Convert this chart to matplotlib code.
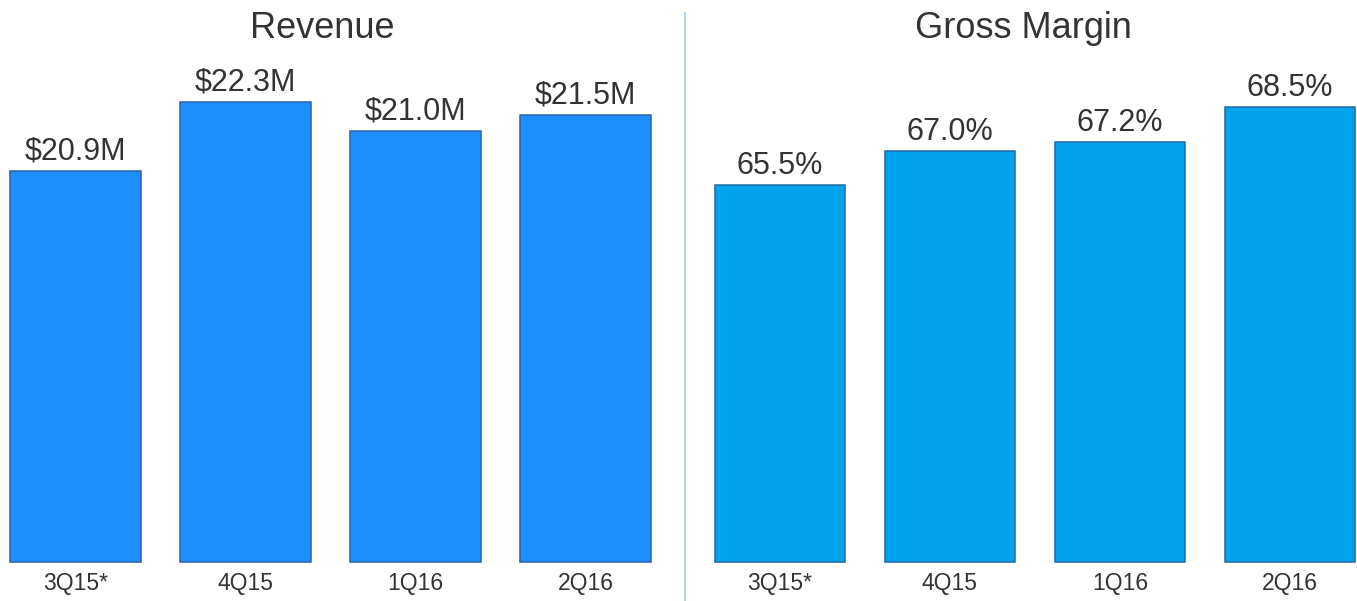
import matplotlib
matplotlib.use("Agg")
import matplotlib.pyplot as plt
from matplotlib.lines import Line2D

plt.rcParams['font.family'] = ['Liberation Sans', 'DejaVu Sans']

quarters = ["3Q15*", "4Q15", "1Q16", "2Q16"]

# revenue ($M) and gross margin (%) as printed above the bars
revenue = [20.9, 22.3, 21.0, 21.5]
gross_margin = [65.5, 67.0, 67.2, 68.5]

# bar heights as drawn (the source chart is not to scale), tallest = 100
revenue_bar = [85.0, 100.0, 93.7, 97.2]
margin_bar = [82.9, 90.3, 92.3, 100.0]

W, H = 1357, 601
fig = plt.figure(figsize=(W / 100, H / 100), dpi=100)

text_col = "#333333"
base = 562  # pixel row of the bar bottoms


def panel(x0, x1, c0, heights, labels, fmt, ymax, face, edge):
    ax = fig.add_axes([x0 / W, (H - base) / H, (x1 - x0) / W, base / H])
    step = 170.0
    ax.set_xlim(-(c0 - x0) / step, (x1 - c0) / step)
    ax.set_ylim(0, ymax)
    pos = range(len(quarters))
    bars = ax.bar(pos, heights, width=0.77, color=face, edgecolor=edge,
                  linewidth=1.1, clip_on=False)
    for b, v in zip(bars, labels):
        ax.annotate(fmt.format(v), (b.get_x() + b.get_width() / 2, b.get_height()),
                    xytext=(0, 8), textcoords="offset points",
                    ha="center", va="baseline", fontsize=22, color=text_col)
    ax.set_xticks(list(pos))
    ax.set_xticklabels(quarters, fontsize=16.5, color=text_col)
    ax.tick_params(axis="x", length=0, pad=7)
    ax.set_yticks([])
    for s in ax.spines.values():
        s.set_visible(False)
    return ax


panel(0, 685, 75.5, revenue_bar, revenue, "${:.1f}M", 100 * 562 / 460,
      "#1e8fff", "#2a62a8")
panel(685, 1357, 780, margin_bar, gross_margin, "{:.1f}%", 100 * 562 / 455,
      "#00a3ec", "#1f6aa6")

fig.text(322 / W, 1 - 38 / H, "Revenue", ha="center", va="baseline",
         fontsize=26, color=text_col)
fig.text(1023.5 / W, 1 - 38 / H, "Gross Margin", ha="center", va="baseline",
         fontsize=26, color=text_col)

fig.add_artist(Line2D([685 / W, 685 / W], [0, 1 - 13 / H], transform=fig.transFigure,
                      color="#a9d0ee", linewidth=1.3))

fig.savefig("out.png", dpi=100)
